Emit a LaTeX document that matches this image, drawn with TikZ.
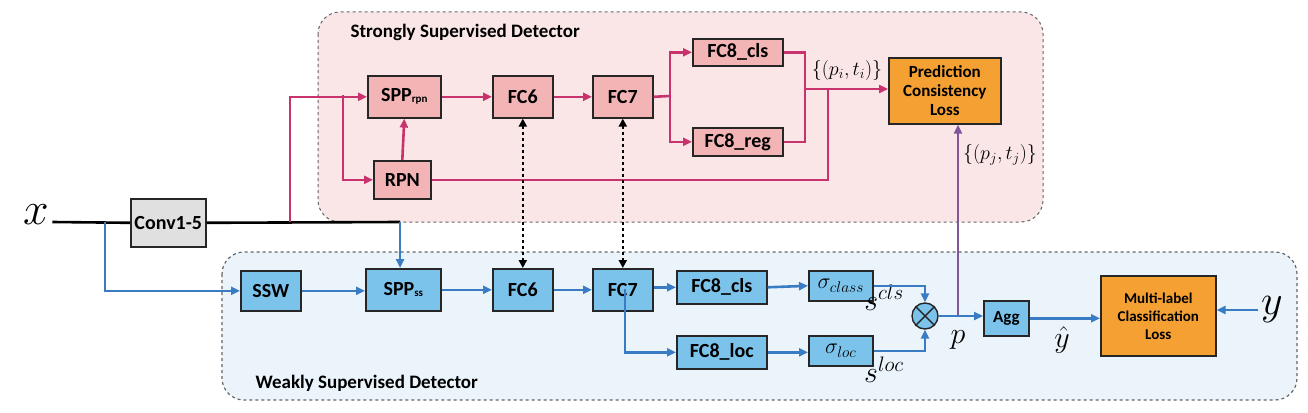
\documentclass[tikz,border=0pt]{standalone}
\usepackage{fix-cm}
\usepackage{fontspec}
\setmainfont{Carlito}
\usetikzlibrary{arrows.meta}
\definecolor{pk}{HTML}{C8336E}
\definecolor{bl}{HTML}{3A7CC4}
\definecolor{pkf}{HTML}{F2B4B4}
\definecolor{blf}{HTML}{7CC3EC}
\definecolor{orf}{HTML}{F4A033}
\definecolor{pkr}{HTML}{FBE6E7}
\definecolor{blr}{HTML}{EBF4FB}
\begin{document}
\begin{tikzpicture}[x=1pt,y=-1pt,
 box/.style={draw=black!85,line width=1.6pt,font=\bfseries\fontsize{20}{20}\selectfont,inner sep=0pt,anchor=north west},
 pb/.style={box,fill=pkf},
 bb/.style={box,fill=blf},
 ob/.style={box,fill=orf,align=center},
 tip/.style={-{Triangle[length=9pt,width=8pt]}},
 pl/.style={draw=pk,line width=2.6pt,tip},
 bln/.style={draw=bl,line width=2.6pt,tip},
 lab/.style={font=\bfseries\fontsize{19}{19}\selectfont,anchor=west}]
\useasboundingbox (0,0) rectangle (1308,412);
\fill[white] (0,0) rectangle (1308,412);
% regions
\draw[dashed,black!60,line width=1pt,fill=pkr,rounded corners=22pt] (318,12) rectangle (1043,222);
\draw[dashed,black!60,line width=1.2pt,fill=blr,rounded corners=22pt] (222,252) rectangle (1297,400);
\node[lab] (tS) at (347,32) {Strongly Supervised Detector};
\node[lab] (tW) at (252,383) {Weakly Supervised Detector};
% strong boxes
\node[box,fill=black!12,minimum width=75,minimum height=48] (conv) at (130,198) {Conv1-5};
\node[pb,minimum width=73,minimum height=42] (spr) at (367,75) {SPP\raisebox{-1pt}{\fontsize{11}{11}\selectfont rpn}};
\node[pb,minimum width=57,minimum height=38] (rpn) at (373,160) {RPN};
\node[pb,minimum width=60,minimum height=42] (fc6a) at (492,75) {FC6};
\node[pb,minimum width=60,minimum height=42] (fc7a) at (592,75) {FC7};
\node[pb,minimum width=90,minimum height=27] (cls) at (692,38) {FC8\_cls};
\node[pb,minimum width=90,minimum height=28] (reg) at (692,127) {FC8\_reg};
\node[ob,minimum width=112,minimum height=66,font=\bfseries\fontsize{17}{19}\selectfont] (pcl) at (888,57) {Prediction\\Consistency\\Loss};
% weak boxes
\node[bb,minimum width=60,minimum height=40] (ssw) at (240,270) {SSW};
\node[bb,minimum width=75,minimum height=42] (sps) at (365,268) {SPP\raisebox{-1pt}{\fontsize{11}{11}\selectfont ss}};
\node[bb,minimum width=60,minimum height=42] (fc6b) at (492,268) {FC6};
\node[bb,minimum width=60,minimum height=42] (fc7b) at (592,268) {FC7};
\node[bb,minimum width=90,minimum height=33] (bcls) at (676,270) {FC8\_cls};
\node[bb,minimum width=90,minimum height=33] (bloc) at (676,335) {FC8\_loc};
\node[bb,minimum width=64,minimum height=30,font=\fontsize{22}{22}\selectfont] (sc) at (808,270) {$\sigma_{class}$};
\node[bb,minimum width=64,minimum height=30,font=\fontsize{22}{22}\selectfont] (sl) at (808,335) {$\sigma_{loc}$};
\node[draw=black!85,line width=1.4pt,fill=blf,circle,minimum size=26,inner sep=0pt] (ot) at (925,316) {};
\draw[black!85,line width=1.4pt] (ot.north west)--(ot.south east) (ot.north east)--(ot.south west);
\node[bb,minimum width=45,minimum height=35,font=\bfseries\fontsize{17}{17}\selectfont] (agg) at (983,300) {Agg};
\node[ob,minimum width=115,minimum height=80,font=\bfseries\fontsize{15}{18}\selectfont] (ml) at (1100,275) {Multi-label\\Classification\\Loss};
% math labels
\node[font=\fontsize{46}{46}\selectfont] (x) at (36,215) {$x$};
\node[font=\fontsize{42}{42}\selectfont] (y) at (1272,310) {$y$};
\node[font=\fontsize{30}{30}\selectfont] (p) at (958,340) {$p$};
\node[font=\fontsize{30}{30}\selectfont] (yh) at (1062,340) {$\hat{y}$};
\node[font=\fontsize{30}{30}\selectfont] (scl) at (884,298) {$s^{cls}$};
\node[font=\fontsize{30}{30}\selectfont] (slc) at (884,370) {$s^{loc}$};
\node[font=\fontsize{20}{20}\selectfont] (pit) at (847,70) {$\{(p_i,t_i)\}$};
\node[font=\fontsize{20}{20}\selectfont] (pjt) at (1000,155) {$\{(p_j,t_j)\}$};
% coordinates
\coordinate (c1) at (290,222);
\coordinate (c2) at (343,95);
\coordinate (c3) at (670,96);
\coordinate (c4) at (805,89);
\coordinate (c5) at (828,89);
\coordinate (c6) at (105,222);
\coordinate (c7) at (400,222);
\coordinate (c8) at (625,289);
\coordinate (c9) at (958,316);
% black lines
\draw[black,line width=2.6pt] (x.east|-c6) -- (conv.west);
\draw[black,line width=2.6pt] (conv.east) -- (c7);
% pink
\draw[pl] (c1) |- (spr.west);
\draw[pl] (c2) |- (rpn.west);
\draw[pl] (rpn.north) -- (spr.south);
\draw[pl] (spr.east) -- (fc6a.west);
\draw[pl] (fc6a.east) -- (fc7a.west);
\draw[pk,line width=2.6pt] (fc7a.east) -- (c3);
\draw[pl] (c3) |- (cls.west);
\draw[pl] (c3) |- (reg.west);
\draw[pk,line width=2.6pt] (cls.east) -| (c4) (reg.east) -| (c4);
\draw[pl] (c4) -- (pcl.west|-c4);
\draw[pk,line width=2.6pt] (rpn.east) -| (c5);
\draw[draw=pk!50!bl,line width=2pt,tip] (c9) -- (c9|-pcl.south);
% blue
\draw[bln] (c6) |- (ssw.west);
\draw[bln] (c7) -- (c7|-sps.north);
\draw[bln] (ssw.east) -- (ssw.east-|sps.west);
\draw[bln] (sps.east) -- (fc6b.west);
\draw[bln] (fc6b.east) -- (fc7b.west);
\draw[bln] (fc7b.east|-bcls.west) -- (bcls.west);
\draw[bln] (c8) |- (bloc.west);
\draw[bln] (bcls.east) -- (sc.west);
\draw[bln] (bloc.east) -- (bloc.east-|sl.west);
\draw[bln] (sc.east) -| (ot.north);
\draw[bln] (sl.east) -| (ot.south);
\draw[bln] (ot.east) -- (ot.east-|agg.west);
\draw[bln] (agg.east) -- (agg.east-|ml.west);
\draw[bln] (y.west) -- (y.west-|ml.east);
% dashed double arrows
\draw[black,line width=2.4pt,dashed,{Triangle[length=8pt,width=8pt]}-{Triangle[length=8pt,width=8pt]}] (fc6a.south) -- (fc6b.north);
\draw[black,line width=2.4pt,dashed,{Triangle[length=8pt,width=8pt]}-{Triangle[length=8pt,width=8pt]}] (fc7a.south) -- (fc7b.north);
\end{tikzpicture}
\end{document}
